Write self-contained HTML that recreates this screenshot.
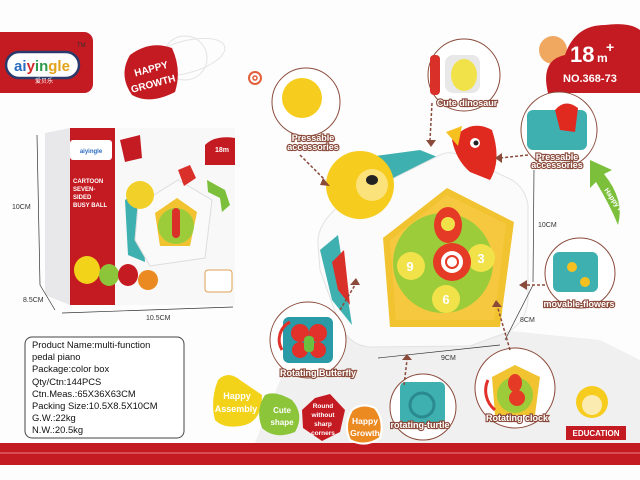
<!DOCTYPE html>
<html><head><meta charset="utf-8"><style>
html,body{margin:0;padding:0;background:#fff;}
svg{display:block;}
text{font-family:"Liberation Sans","Noto Sans CJK SC",sans-serif;}
</style></head><body>
<svg width="640" height="480" viewBox="0 0 640 480" xmlns="http://www.w3.org/2000/svg">
<rect width="640" height="480" fill="#fdfdfd"/>
<path d="M255 443 L300 330 L360 320 L420 345 L500 330 L600 340 L640 360 L640 443 Z" fill="#f0f0f0"/>
<rect x="0" y="443" width="640" height="22" fill="#c41a22"/>
<rect x="0" y="452" width="640" height="2" fill="#d94c52"/>
<rect x="-10" y="32" width="103" height="61" rx="9" fill="#c41a22"/>
<text x="77" y="47" font-size="6" fill="#333">TM</text>
<rect x="6" y="52" width="73" height="26" rx="13" fill="#fff" stroke="#2b3a6b" stroke-width="2.5"/>
<text x="42" y="71" font-size="15" font-weight="bold" text-anchor="middle" fill="#2c6cc0">ai<tspan fill="#d42a2a">y</tspan><tspan fill="#2e9a4a">in</tspan><tspan fill="#e2a21a">gle</tspan></text>
<text x="44" y="83" font-size="6" text-anchor="middle" fill="#fff">爱贝乐</text>
<ellipse cx="186" cy="57" rx="40" ry="16" fill="none" stroke="#e4e4e4" transform="rotate(-15 186 57)"/>
<circle cx="185" cy="58" r="22" fill="none" stroke="#e4e4e4"/>
<path d="M130 55 Q150 40 172 48 Q182 70 175 92 Q150 105 132 95 Q118 75 130 55Z" fill="#c41a22"/>
<text x="152" y="72" font-size="10" font-weight="bold" fill="#fff" text-anchor="middle" transform="rotate(-15 152 72)">HAPPY</text>
<text x="154" y="87" font-size="10" font-weight="bold" fill="#fff" text-anchor="middle" transform="rotate(-15 154 87)">GROWTH</text>
<circle cx="255" cy="78" r="6" fill="none" stroke="#e2603a" stroke-width="2"/>
<circle cx="255" cy="78" r="2" fill="none" stroke="#e2603a" stroke-width="1.5"/>
<circle cx="553" cy="50" r="14" fill="#f0a860"/>
<path d="M548 93 Q540 60 565 55 Q575 25 605 25 Q630 22 640 30 L640 93 Z" fill="#c41a22"/>
<text x="570" y="62" font-size="22" font-weight="bold" fill="#fff">18</text>
<text x="597" y="62" font-size="12" font-weight="bold" fill="#fff">m</text>
<text x="606" y="52" font-size="14" font-weight="bold" fill="#fff">+</text>
<text x="563" y="82" font-size="11" font-weight="bold" fill="#fff">NO.368-73</text>
<path d="M45 133 L70 128 L70 305 L45 295 Z" fill="#e8e8ea"/>
<rect x="70" y="128" width="165" height="177" fill="#f8f8f8"/>
<rect x="70" y="128" width="45" height="177" fill="#c41a22"/>
<rect x="70" y="140" width="42" height="20" rx="3" fill="#fff"/>
<text x="91" y="153" font-size="6" font-weight="bold" fill="#2c6cc0" text-anchor="middle">aiyingle</text>
<text x="73" y="183" font-size="6" font-weight="bold" fill="#fff">CARTOON</text>
<text x="73" y="191" font-size="6" font-weight="bold" fill="#fff">SEVEN-</text>
<text x="73" y="199" font-size="6" font-weight="bold" fill="#fff">SIDED</text>
<text x="73" y="207" font-size="6" font-weight="bold" fill="#fff">BUSY BALL</text>
<path d="M120 140 L140 135 L142 158 L125 162Z" fill="#c41a22"/>
<path d="M205 145 Q215 135 235 138 L235 165 L205 165Z" fill="#c41a22"/>
<text x="222" y="152" font-size="7" font-weight="bold" fill="#fff" text-anchor="middle">18m</text>
<path d="M207 180 L225 190 L230 205 L222 212 L220 198 L208 192Z" fill="#7cbf3a"/>
<path d="M125 200 L140 190 L145 262 L128 255Z" fill="#3fb0b0"/>
<path d="M138 205 L178 180 L212 200 L205 258 L150 266 L135 240 Z" fill="#fafafa" stroke="#ddd"/>
<path d="M177 198 L197 212 L190 246 L160 246 L155 213Z" fill="#f1c330"/>
<circle cx="176" cy="226" r="18" fill="#9ccc3a"/>
<rect x="172" y="208" width="8" height="30" rx="4" fill="#d9302a"/>
<circle cx="140" cy="195" r="14" fill="#f2d02a"/>
<path d="M178 170 L190 165 L196 178 L184 186Z" fill="#d9302a"/>
<ellipse cx="87" cy="270" rx="13" ry="14" fill="#f3d21a"/>
<ellipse cx="109" cy="275" rx="10" ry="11" fill="#8cc43a"/>
<ellipse cx="128" cy="275" rx="10" ry="11" fill="#c41a22"/>
<ellipse cx="148" cy="280" rx="10" ry="10" fill="#ec8a22"/>
<rect x="205" y="270" width="27" height="22" rx="3" fill="#fff" stroke="#e0a050"/>
<line x1="37" y1="135" x2="40" y2="285" stroke="#333" stroke-width="0.7"/>
<text x="12" y="209" font-size="7" fill="#333">10CM</text>
<line x1="40" y1="285" x2="55" y2="310" stroke="#333" stroke-width="0.7"/>
<text x="23" y="302" font-size="7" fill="#333">8.5CM</text>
<line x1="62" y1="313" x2="233" y2="307" stroke="#333" stroke-width="0.7"/>
<text x="146" y="320" font-size="7" fill="#333">10.5CM</text>
<rect x="25" y="337" width="159" height="101" rx="7" fill="#fff" stroke="#444" stroke-width="1"/>
<g font-size="9.4" fill="#111">
<text x="32" y="348">Product Name:multi-function</text>
<text x="32" y="360">pedal piano</text>
<text x="32" y="372">Package:color box</text>
<text x="32" y="385">Qty/Ctn:144PCS</text>
<text x="32" y="397">Ctn.Meas.:65X36X63CM</text>
<text x="32" y="409">Packing Size:10.5X8.5X10CM</text>
<text x="32" y="421">G.W.:22kg</text>
<text x="32" y="433">N.W.:20.5kg</text>
</g>
<path d="M218 380 Q228 370 240 380 L262 395 Q262 420 245 425 Q225 430 215 420 Q210 400 218 380Z" fill="#f3d21a"/>
<text x="237" y="399" font-size="9" font-weight="bold" fill="#fff" text-anchor="middle">Happy</text>
<text x="236" y="412" font-size="9" font-weight="bold" fill="#fff" text-anchor="middle">Assembly</text>
<path d="M265 395 Q275 390 292 400 Q305 415 295 432 Q275 440 262 428 Q255 410 265 395Z" fill="#8cc43a"/>
<text x="282" y="413" font-size="8" font-weight="bold" fill="#fff" text-anchor="middle">Cute</text>
<text x="282" y="425" font-size="8" font-weight="bold" fill="#fff" text-anchor="middle">shape</text>
<path d="M315 398 L330 394 L345 410 L340 432 L322 441 L303 428 L302 410Z" fill="#c41a22"/>
<text x="323" y="408" font-size="6.5" font-weight="bold" fill="#fff" text-anchor="middle">Round</text>
<text x="323" y="417" font-size="6.5" font-weight="bold" fill="#fff" text-anchor="middle">without</text>
<text x="323" y="426" font-size="6.5" font-weight="bold" fill="#fff" text-anchor="middle">sharp</text>
<text x="323" y="435" font-size="6.5" font-weight="bold" fill="#fff" text-anchor="middle">corners</text>
<path d="M352 410 Q362 402 375 408 Q385 420 380 438 Q365 448 350 440 Q343 425 352 410Z" fill="#ec8a22" stroke="#fff" stroke-width="2"/>
<text x="365" y="424" font-size="8.5" font-weight="bold" fill="#fff" text-anchor="middle">Happy</text>
<text x="365" y="436" font-size="8.5" font-weight="bold" fill="#fff" text-anchor="middle">Growth</text>
<!-- main product -->
<path d="M335 215 L345 160 L420 150 L440 158 L330 230Z" fill="#3fb0b0"/>
<path d="M318 245 Q316 225 340 205 L440 155 Q450 150 462 156 L512 180 Q525 188 528 205 L528 300 Q526 322 508 332 L470 346 L370 347 Q350 346 340 325 L320 270Z" fill="#fbfbfb" stroke="#e2e2e2"/>
<path d="M320 250 L338 235 L352 325 L332 300Z" fill="#3fb0b0"/>
<path d="M332 262 L344 250 L350 305 L338 290Z" fill="#d9302a"/>
<path d="M447 188 L514 222 L500 327 L390 327 L383 238Z" fill="#f1c330"/>
<path d="M447 195 L506 224 L494 320 L396 320 L390 240Z" fill="#f5c840"/>
<circle cx="443" cy="263" r="50" fill="#9ccc3a"/>
<circle cx="411" cy="266" r="14" fill="#f1e24a"/>
<circle cx="481" cy="258" r="14" fill="#f1e24a"/>
<circle cx="446" cy="299" r="14" fill="#f1e24a"/>
<text x="410" y="271" font-size="13" font-weight="bold" fill="#fff" text-anchor="middle">9</text>
<text x="481" y="263" font-size="13" font-weight="bold" fill="#fff" text-anchor="middle">3</text>
<text x="446" y="304" font-size="13" font-weight="bold" fill="#fff" text-anchor="middle">6</text>
<ellipse cx="448" cy="225" rx="14" ry="18" fill="#e53a25"/>
<circle cx="448" cy="224" r="7" fill="#f1e24a"/>
<circle cx="452" cy="262" r="19" fill="#e53a25"/>
<circle cx="452" cy="262" r="11" fill="#fff"/>
<circle cx="452" cy="262" r="6" fill="none" stroke="#e53a25" stroke-width="2"/>
<circle cx="360" cy="185" r="34" fill="#f6cc1e"/>
<circle cx="372" cy="185" r="16" fill="#fbe27a"/>
<ellipse cx="372" cy="180" rx="6" ry="5" fill="#222"/>
<path d="M452 140 Q470 118 492 130 Q502 160 490 180 L470 172 Q456 160 452 140Z" fill="#e0291f"/>
<path d="M446 132 L462 126 L458 146Z" fill="#f5c020"/>
<circle cx="475" cy="143" r="5" fill="#fff"/><circle cx="476" cy="143" r="2.5" fill="#222"/>
<line x1="534" y1="170" x2="533" y2="282" stroke="#333" stroke-width="0.7"/>
<text x="538" y="227" font-size="7" fill="#333">10CM</text>
<line x1="533" y1="285" x2="505" y2="340" stroke="#333" stroke-width="0.7"/>
<text x="520" y="322" font-size="7" fill="#333">8CM</text>
<line x1="378" y1="358" x2="500" y2="345" stroke="#333" stroke-width="0.7"/>
<text x="441" y="360" font-size="7" fill="#333">9CM</text>
<g fill="#fff" stroke="#8a4a3a" stroke-width="1">
<circle cx="306" cy="102" r="34"/>
<circle cx="464" cy="75" r="36"/>
<circle cx="559" cy="130" r="38"/>
<circle cx="580" cy="273" r="35"/>
<circle cx="308" cy="340" r="38"/>
<circle cx="423" cy="407" r="33"/>
<circle cx="515" cy="388" r="40"/>
</g>
<circle cx="302" cy="98" r="20" fill="#f6cc1e"/>
<rect x="445" y="55" width="35" height="38" rx="8" fill="#e8e8e8"/>
<ellipse cx="464" cy="75" rx="13" ry="16" fill="#f1e24a"/>
<rect x="430" y="55" width="10" height="40" rx="4" fill="#d9302a"/>
<rect x="527" y="110" width="60" height="40" rx="6" fill="#3fb0b0"/>
<path d="M555 110 Q565 98 578 108 L575 132 L560 130Z" fill="#e0291f"/>
<rect x="553" y="252" width="45" height="40" rx="6" fill="#3fb0b0"/>
<circle cx="572" cy="267" r="5" fill="#f6c020"/><circle cx="585" cy="282" r="5" fill="#f6c020"/>
<rect x="283" y="317" width="50" height="46" rx="6" fill="#2a9aa6"/>
<circle cx="300" cy="333" r="9" fill="#e2302a"/><circle cx="318" cy="333" r="9" fill="#e2302a"/>
<circle cx="300" cy="350" r="8" fill="#e2302a"/><circle cx="318" cy="350" r="8" fill="#e2302a"/>
<rect x="304" y="336" width="10" height="16" rx="4" fill="#6cc040"/>
<path d="M290 322 A20 20 0 0 0 282 350" stroke="#e2302a" stroke-width="3" fill="none"/>
<rect x="400" y="382" width="45" height="42" rx="5" fill="#3fb0b0"/>
<circle cx="422" cy="405" r="12" fill="none" stroke="#2a8a90" stroke-width="3"/>
<path d="M515 365 L540 377 L535 415 L495 415 L492 377Z" fill="#f1c330"/>
<circle cx="515" cy="395" r="18" fill="#9ccc3a"/>
<ellipse cx="515" cy="383" rx="7" ry="9" fill="#e53a25"/>
<circle cx="517" cy="398" r="8" fill="#e53a25"/>
<path d="M488 380 A25 25 0 0 0 495 410" stroke="#e2302a" stroke-width="3" fill="none"/>
<g font-size="9" font-weight="bold" fill="#fff" stroke="#8a4a3a" stroke-width="2.2" paint-order="stroke" text-anchor="middle">
<text x="313" y="141">Pressable</text>
<text x="313" y="150">accessories</text>
<text x="467" y="106">Cute dinosaur</text>
<text x="557" y="160">Pressable</text>
<text x="557" y="168">accessories</text>
<text x="579" y="307">movable-flowers</text>
<text x="318" y="376">Rotating Butterfly</text>
<text x="420" y="428">rotating-turtle</text>
<text x="517" y="421">Rotating clock</text>
</g>
<g stroke="#8a4a3a" stroke-width="1.5" stroke-dasharray="3,2" fill="none">
<path d="M300 155 L325 180"/>
<path d="M432 103 L430 140"/>
<path d="M528 155 L500 158"/>
<path d="M545 285 L525 285"/>
<path d="M340 310 L355 285"/>
<path d="M404 385 L407 360"/>
<path d="M510 350 L497 305"/>
</g>
<g fill="#8a4a3a">
<path d="M323 178 L330 186 L320 185Z"/>
<path d="M426 140 L436 140 L431 147Z"/>
<path d="M502 153 L502 163 L495 158Z"/>
<path d="M527 280 L527 290 L519 285Z"/>
<path d="M350 285 L360 285 L356 278Z"/>
<path d="M402 360 L412 360 L407 354Z"/>
<path d="M492 307 L502 307 L496 300Z"/>
</g>
<path d="M590 160 L612 170 L604 174 Q625 200 618 225 Q610 205 596 182 L590 188Z" fill="#7cbf3a"/>
<text x="604" y="190" font-size="7" font-weight="bold" fill="#fff" transform="rotate(55 604 190)">Happy Play</text>
<circle cx="592" cy="402" r="16" fill="#f6cc1e"/>
<circle cx="592" cy="405" r="10" fill="#fcebb0"/>
<rect x="566" y="426" width="60" height="14" fill="#c41a22"/>
<text x="596" y="436" font-size="8" font-weight="bold" fill="#fff" text-anchor="middle">EDUCATION</text>
</svg>
</body></html>
